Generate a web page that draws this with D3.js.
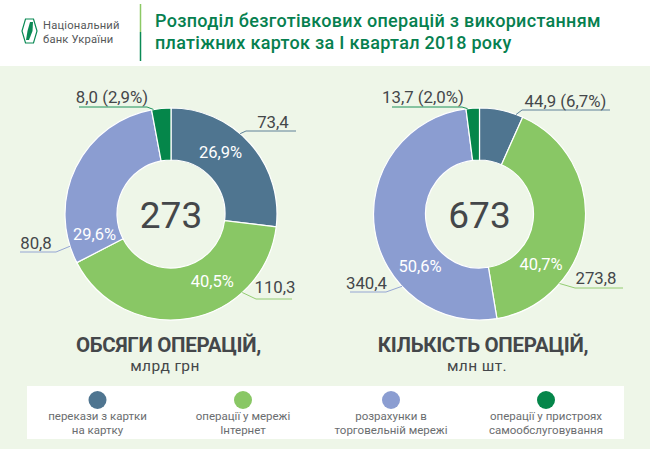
<!DOCTYPE html>
<html>
<head>
<meta charset="utf-8">
<script src="https://cdn.jsdelivr.net/npm/d3@7"></script>
<style>
  html, body { margin: 0; padding: 0; background: #fff; }
  text { font-family: Roboto, sans-serif; }
</style>
</head>
<body>
<svg id="chart" width="650" height="460"></svg>
<script>
// Data
const categories = [
  ['перекази з картки', 'на картку'],
  ['операції у мережі', 'Інтернет'],
  ['розрахунки в', 'торговельній мережі'],
  ['операції у пристроях', 'самообслуговування'],
];
const titleLines = [
  'Розподіл безготівкових операцій з використанням',
  'платіжних карток за І квартал 2018 року',
];
const volumeValues = [73.4, 110.3, 80.8, 8.0];
const volumeLabels = ['73,4', '110,3', '80,8', '8,0 (2,9%)'];
const volumePercents = ['26,9%', '40,5%', '29,6%', ''];
const countValues = [44.9, 273.8, 340.4, 13.7];
const countLabels = ['44,9 (6,7%)', '273,8', '340,4', '13,7 (2,0%)'];
const countPercents = ['', '40,7%', '50,6%', ''];

// Colours
const sliceColors = ['#4f7590', '#89c765', '#8b9dd1', '#05864a'];
const textColor = '#44474a';

const svg = d3.select('#chart');
const color = d3.scaleOrdinal().domain(d3.range(4)).range(sliceColors);

// Background bands
svg.append('rect').attr('x', 0).attr('y', 66).attr('width', 650).attr('height', 383).attr('fill', '#eef6e8');
svg.append('rect').attr('x', 27).attr('y', 386).attr('width', 597).attr('height', 53).attr('fill', '#fff');

// Header: logo, divider, title
const logo = svg.append('g').attr('transform', 'translate(22,19)');
logo.append('path').attr('d', 'M3.5 0H11.5L15 12L11.5 24H3.5L0 12Z').attr('fill', 'none').attr('stroke', '#0a8a55').attr('stroke-width', 1.2);
logo.append('path').attr('d', 'M8 3H11L10.5 12L7 21H4L5.5 12Z').attr('fill', '#0a8a55');

['Національний', 'банк України'].forEach((t, i) => {
  svg.append('text').attr('x', 43).attr('y', 29.3 + i * 13.5)
    .attr('font-size', 11.2).attr('letter-spacing', 0.2).attr('fill', '#55585a').text(t);
});

svg.append('line').attr('x1', 140.5).attr('x2', 140.5).attr('y1', 4).attr('y2', 32).attr('stroke', '#8cc965').attr('stroke-width', 1.5);
svg.append('line').attr('x1', 140.5).attr('x2', 140.5).attr('y1', 32).attr('y2', 61).attr('stroke', '#0a8a55').attr('stroke-width', 1.5);

titleLines.forEach((t, i) => {
  svg.append('text').attr('x', 155).attr('y', 27 + i * 22)
    .attr('font-size', 18).attr('font-weight', 500).attr('letter-spacing', 0.3).attr('fill', '#06804f').text(t);
});

const outerRadius = 106;
const innerRadius = 54;
const pie = d3.pie().sort(null).value(d => d);
const arc = d3.arc().innerRadius(innerRadius).outerRadius(outerRadius);

// Point on a circle at a fraction of the way through a slice
function polar(d, frac, r) {
  const a = d.startAngle + frac * (d.endAngle - d.startAngle);
  return [r * Math.sin(a), -r * Math.cos(a)];
}

function drawDonut(o) {
  const g = svg.append('g').attr('transform', `translate(${o.cx},${o.cy})`);
  const slices = pie(o.values);

  g.selectAll('path.slice').data(slices).join('path')
    .attr('class', 'slice')
    .attr('d', arc)
    .attr('fill', (d, i) => color(i))
    .attr('stroke', '#fff')
    .attr('stroke-width', 1.2);

  // Leader lines go from the slice edge to an elbow, then run flat
  g.selectAll('path.leader').data(slices).join('path')
    .attr('class', 'leader')
    .attr('fill', 'none')
    .attr('stroke', (d, i) => color(i))
    .attr('stroke-width', 0.9)
    .attr('d', (d, i) => {
      const l = o.leaders[i];
      return d3.line()([polar(d, l.frac, outerRadius), [l.ex - o.cx, l.ey - o.cy], [l.end - o.cx, l.ey - o.cy]]);
    });

  g.selectAll('text.value').data(slices).join('text')
    .attr('class', 'value')
    .attr('x', (d, i) => o.leaders[i].tx - o.cx)
    .attr('y', (d, i) => o.leaders[i].ty - o.cy)
    .attr('text-anchor', 'middle')
    .attr('font-size', 16.8)
    .attr('fill', textColor)
    .text((d, i) => o.labels[i]);

  g.selectAll('text.pct').data(slices).join('text')
    .attr('class', 'pct')
    .attr('x', (d, i) => polar(d, o.pctFrac[i], 79)[0])
    .attr('y', (d, i) => polar(d, o.pctFrac[i], 79)[1] + 6)
    .attr('text-anchor', 'middle')
    .attr('font-size', 16.5)
    .attr('fill', '#fff')
    .text((d, i) => o.percents[i]);

  g.append('text').attr('text-anchor', 'middle').attr('y', 14)
    .attr('font-size', 37).attr('fill', textColor).text(o.total);

  svg.append('text').attr('x', o.headX).attr('y', 351.5).attr('text-anchor', 'middle')
    .attr('font-size', 20.5).attr('font-weight', 700).attr('letter-spacing', -0.3)
    .attr('fill', textColor).text(o.heading);
  svg.append('text').attr('x', o.subX).attr('y', 371).attr('text-anchor', 'middle')
    .attr('font-size', 15.5).attr('letter-spacing', 0.4)
    .attr('fill', textColor).text(o.unit);
}

drawDonut({
  cx: 171, cy: 214, values: volumeValues, labels: volumeLabels, percents: volumePercents,
  pctFrac: [0.4, 0.353, 0.12, 0], total: '273',
  heading: 'ОБСЯГИ ОПЕРАЦІЙ,', headX: 168.5, unit: 'млрд грн', subX: 165,
  leaders: [
    { frac: 0.42, ex: 246, ey: 131, end: 296, tx: 273, ty: 128 },
    { frac: 0.28, ex: 256, ey: 299, end: 292, tx: 275, ty: 293 },
    { frac: 0.09, ex: 56, ey: 252, end: 20, tx: 36, ty: 249 },
    { frac: 0.1, ex: 147, ey: 107, end: 79, tx: 112, ty: 103 },
  ],
});

drawDonut({
  cx: 479.5, cy: 214, values: countValues, labels: countLabels, percents: countPercents,
  pctFrac: [0, 0.716, 0.32, 0], total: '673',
  heading: 'КІЛЬКІСТЬ ОПЕРАЦІЙ,', headX: 483, unit: 'млн шт.', subX: 477,
  leaders: [
    { frac: 0.84, ex: 522, ey: 110, end: 610, tx: 565.5, ty: 107 },
    { frac: 0.73, ex: 575, ey: 288, end: 623, tx: 596, ty: 284 },
    { frac: 0.31, ex: 386, ey: 292, end: 350, tx: 366.5, ty: 289 },
    { frac: 0.12, ex: 462, ey: 107, end: 392, tx: 423, ty: 103 },
  ],
});

// Legend
const legendX = [97.5, 243, 391, 546];
const legend = svg.selectAll('g.legend').data(categories).join('g')
  .attr('class', 'legend')
  .attr('transform', (d, i) => `translate(${legendX[i]},0)`);
legend.append('circle').attr('cy', 400).attr('r', 9).attr('fill', (d, i) => color(i));
legend.each(function(lines) {
  d3.select(this).selectAll('text').data(lines).join('text')
    .attr('y', (t, i) => 420 + i * 14)
    .attr('text-anchor', 'middle')
    .attr('font-size', 11.5)
    .attr('fill', '#6a6d6f')
    .text(t => t);
});
</script>
</body>
</html>
